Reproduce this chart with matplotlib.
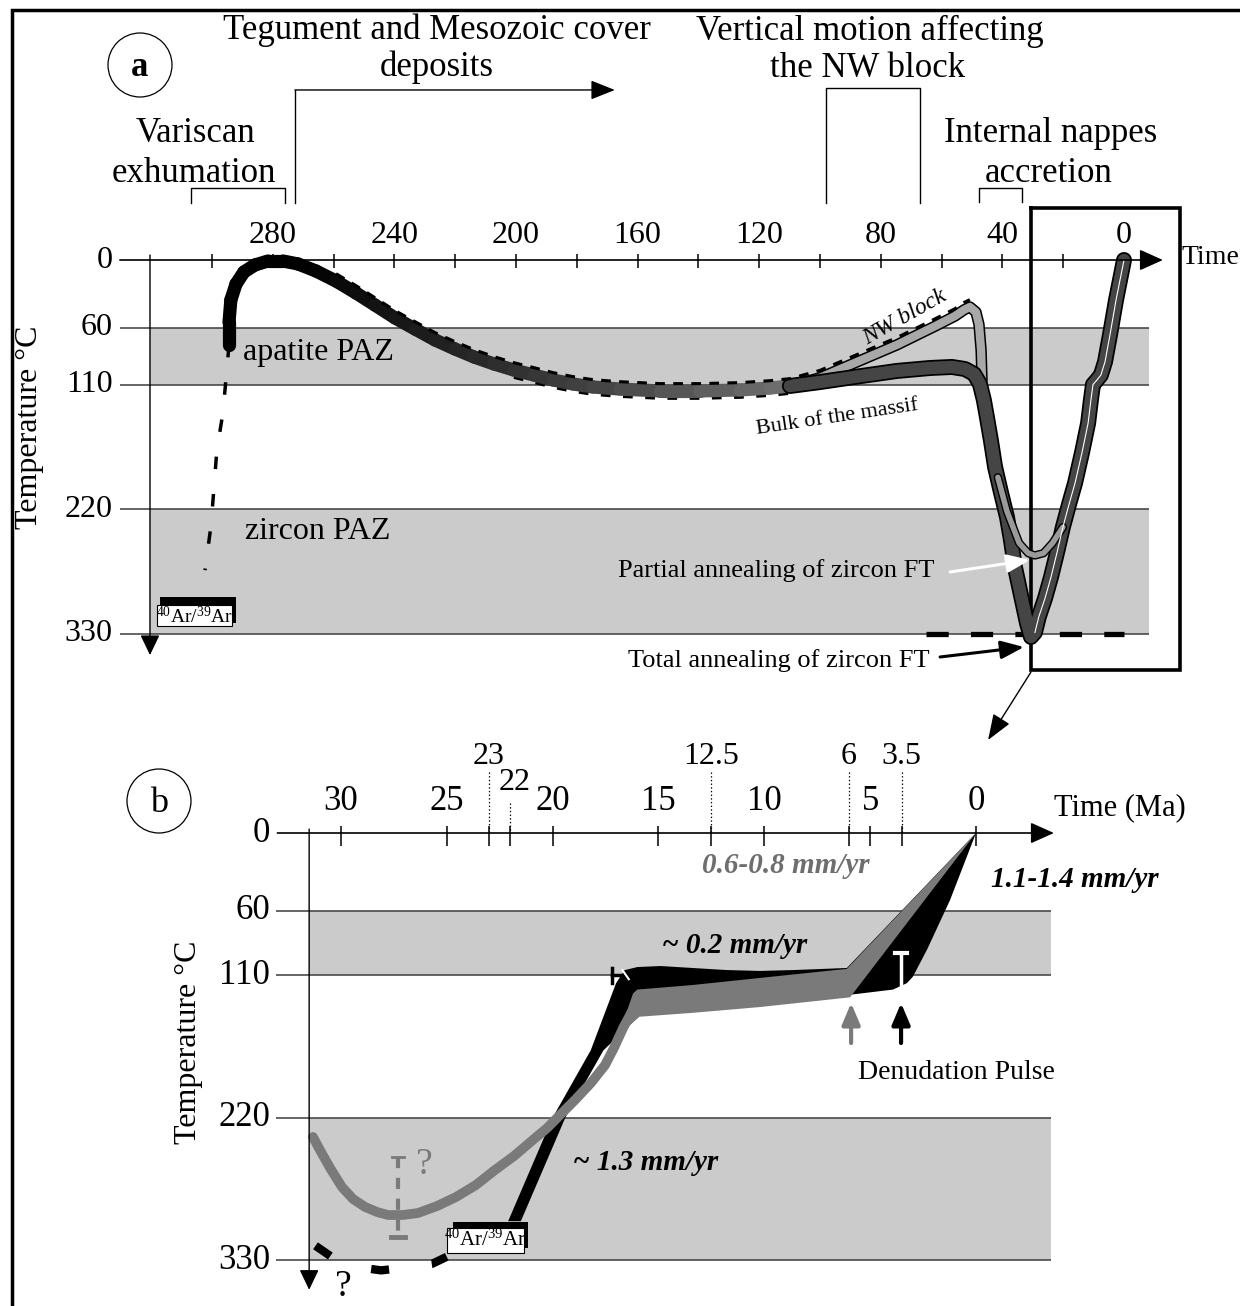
import matplotlib
matplotlib.use('Agg')
import matplotlib.pyplot as plt
import matplotlib.patheffects as pe
from matplotlib.patches import Rectangle, Ellipse, Polygon

plt.rcParams['font.family'] = ['Liberation Serif', 'DejaVu Serif']
plt.rcParams['mathtext.fontset'] = 'custom'
plt.rcParams['mathtext.rm'] = 'Liberation Serif'
plt.rcParams['lines.scale_dashes'] = False

W, H = 1240, 1306

# ---------------- data, panel a (time in Ma, temperature in degC) ----------------
a_labels = [280, 240, 200, 160, 120, 80, 40, 0]
a_minor = [300, 260, 220, 180, 140, 100, 60, 20]
temp_ticks = [0, 60, 110, 220, 330]
paz = [(60, 110), (220, 330)]

main_ma = [294.4, 294.4, 293.8, 292.1, 289.5, 285.9, 281.6, 276.6, 271.7, 265.8,
           259.2, 252.6, 246.4, 239.8, 233.2, 226.6, 220.1, 213.8, 207.2, 200.7,
           194.1, 187.8, 181.3, 174.7, 165.8, 152.6, 139.5, 126.3, 116.4, 109.9]
main_t = [75.1, 54.8, 35.3, 21.2, 10.6, 4.4, 0.9, 0.9, 3.5, 9.7,
          18.6, 29.2, 39.8, 51.2, 61.0, 70.7, 78.6, 85.7, 91.9, 97.2,
          101.6, 106.0, 109.5, 112.2, 114.0, 115.7, 115.7, 114.8, 113.1, 111.3]

bulk_ma = [109.9, 100.0, 87.8, 74.7, 63.8, 56.6, 52.3, 49.3, 47.4, 46.1, 45.1, 43.8,
           42.4, 40.5, 38.5, 37.2, 35.9, 33.9, 31.9, 30.6, 29.3, 28.0, 26.0, 24.0,
           22.0, 20.1, 18.1, 16.1, 13.8, 11.8, 10.9, 10.2, 8.9, 7.6, 6.25, 4.6, 2.6, 0.0]
bulk_t = [111.3, 107.8, 103.0, 98.0, 95.4, 94.5, 96.3, 100.7, 109.5, 123.7, 138.7, 159,
          183, 205, 227, 247, 271, 296, 321, 333, 329, 315, 299, 280,
          258, 236, 216, 197, 170, 144, 124, 110, 106, 101.6, 90, 66, 35, 0]

nw_ma = [109.9, 100.0, 87.8, 74.7, 61.8, 55.6, 52.6, 50.7, 48.7, 47.7, 47.0, 46.7]
nw_t = [111.3, 104, 90, 75, 58, 49.5, 44, 41.5, 46, 57, 80, 106]

partial_ma = [41.5, 38.5, 34.5, 31.5, 29.3, 26.5, 23.5, 20.1]
partial_t = [192, 222, 250, 259, 261, 259, 250, 236]

ar_dash_ma = [294.4, 296.4, 298.4, 300.3, 302.3]
ar_dash_t = [75, 135, 168, 234, 274]

variscan = (307, 276)
tegument = (272.7, 167.5)
nw_motion = (98, 67)
nappes = (47.7, 33.5)
total_ann = (65, 0)

# ---------------- data, panel b ----------------
b_labels = [30, 25, 20, 15, 10, 5, 0]
b_extra = [23, 22, 12.5, 6, 3.5]

gl_ma = [31.32, 30.99, 30.51, 29.95, 29.43, 28.86, 28.29, 27.78, 27.07, 26.36, 25.46,
         24.56, 23.62, 22.72, 21.82, 20.93, 20.26, 19.65, 18.94, 18.19, 17.52, 17.1,
         16.65, 16.25]
gl_t = [234.9, 245.0, 258.9, 273.6, 282.8, 289.0, 292.9, 295.2, 295.2, 293.7, 288.3,
        281.3, 272.0, 260.4, 249.6, 237.2, 228.0, 217.9, 206.3, 193.2, 179.3, 166.0,
        150.0, 138.0]

gb_ma = [16.75, 16.2, 16.0, 13.4, 10.2, 6.1, 0.0, 5.95, 10.2, 13.4, 15.9, 16.45]
gb_t = [150, 124, 121, 117.5, 112, 105, 0, 127, 134.5, 139, 142, 150]

bk_ma = [22.1, 20.0, 18.2, 17.0, 16.6, 16.0, 14.9, 13.4, 11.8, 10.2, 8.6, 6.1, 0.0,
         1.23, 2.31, 2.98, 3.26, 3.92, 5.95, 10.0, 15.5, 17.6, 19.4, 21.5]
bk_t = [300, 220, 168, 116, 106, 103.6, 102.8, 104.3, 105.9, 106.6, 105.9, 104.3, 0,
        52, 90, 111, 116, 121, 125, 127, 135, 168, 220, 300]

bdash_ma = [31.2, 30.4, 29.0, 28.1, 27.0, 25.7, 25.0]
bdash_t = [319, 328, 336, 338, 336, 333, 327.5]

pulse_gray = 5.9
pulse_black = 3.54


def arrow(ax, start, tip, color='k', lw=1.3, hl=1.45, hw=0.65, ms=10, z=5):
    ax.annotate('', xy=tip, xytext=start,
                arrowprops=dict(arrowstyle='-|>,head_length=%s,head_width=%s' % (hl, hw),
                                color=color, lw=lw, shrinkA=0, shrinkB=0,
                                mutation_scale=ms), zorder=z)


def stroke(w):
    return [pe.Stroke(linewidth=w, foreground='k'), pe.Normal()]


fig = plt.figure(figsize=(W / 100, H / 100), dpi=100)
fig.patch.set_facecolor('white')

axP = fig.add_axes([0, 0, 1, 1], label='px')
axP.set_xlim(0, W)
axP.set_ylim(H, 0)
axP.axis('off')

axA = fig.add_axes([0, 0, 1, 1], label='a')
axA.set_xlim(1124 / 3.04, (1124 - W) / 3.04)
axA.set_ylim((H - 260) / 1.132, -260 / 1.132)
axA.axis('off')

axB = fig.add_axes([0, 0, 1, 1], label='b')
axB.set_xlim(976 / 21.17, (976 - W) / 21.17)
axB.set_ylim((H - 833) / 1.294, -833 / 1.294)
axB.axis('off')

# frame and panel letters
axP.plot([12, 12, W], [H, 10, 10], color='k', lw=2.5, solid_joinstyle='miter')
axP.add_patch(Ellipse((140, 65), 64, 64, fill=False, lw=0.9, ec='k'))
axP.text(140, 67, 'a', ha='center', va='center', fontsize=25, fontweight='bold')
axP.add_patch(Ellipse((159, 801), 64, 64, fill=False, lw=0.9, ec='k'))
axP.text(159, 803, 'b', ha='center', va='center', fontsize=26)

# ---------------- panel a ----------------
ax = axA
band_col = '#cbcbcb'
line_col = '#3c3c3c'
for lo, hi in paz:
    ax.fill_between([320.4, -8.2], lo, hi, color=band_col, lw=0, zorder=1)
ax.hlines([60, 110, 220, 330], 330.3, -8.2, color=line_col, lw=1.1, zorder=2)
arrow(ax, (330.3, 0), (-12.8, 0), lw=1.2)
arrow(ax, (320.4, -4.4), (320.4, 349), lw=1.0, hl=1.25, hw=0.6)
ax.vlines(a_minor + a_labels, -5, 7, color='k', lw=1.1, zorder=2)
for v in a_labels:
    ax.text(v, -22, str(v), ha='center', va='center', fontsize=23)
for v in temp_ticks:
    ax.text(332.6, v, str(v), ha='right', va='center', fontsize=23)
ax.text(359.9, 148, 'Temperature °C', rotation=90, ha='center', va='center', fontsize=23)
ax.text(-18.8, -1.8, 'Time', ha='left', va='center', fontsize=20)

# headers and brackets
ax.text(226, -203, 'Tegument and Mesozoic cover', ha='center', va='center', fontsize=25)
ax.text(226, -170, 'deposits', ha='center', va='center', fontsize=25)
ax.plot([tegument[0], tegument[0]], [-50.4, -150.2], color='k', lw=1.0)
arrow(ax, (tegument[0], -150.2), (tegument[1], -150.2), lw=1.0, hl=1.5, hw=0.6)

ax.text(305.3, -112, 'Variscan', ha='center', va='center', fontsize=25)
ax.text(305.9, -76, 'exhumation', ha='center', va='center', fontsize=25)
ax.plot([variscan[0], variscan[0], variscan[1], variscan[1]], [-50.4, -63.6, -63.6, -50.4],
        color='k', lw=1.0)

ax.text(83.6, -202, 'Vertical motion affecting', ha='center', va='center', fontsize=25)
ax.text(84.2, -169, 'the NW block', ha='center', va='center', fontsize=25)
ax.plot([nw_motion[0], nw_motion[0], nw_motion[1], nw_motion[1]], [-50.4, -152, -152, -50.4],
        color='k', lw=1.0)

ax.text(24.3, -112, 'Internal nappes', ha='center', va='center', fontsize=25)
ax.text(24.7, -76, 'accretion', ha='center', va='center', fontsize=25)
ax.plot([nappes[0], nappes[0], nappes[1], nappes[1]], [-51.3, -63.6, -63.6, -51.3],
        color='k', lw=1.0)

# zoom box and arrow to panel b
ax.plot([30.6, 30.6, -18.4, -18.4, 30.6], [-45.9, 362, 362, -45.9, -45.9],
        color='k', lw=2.6, zorder=3, solid_joinstyle='miter')
arrow(ax, (30.6, 364), (44.7, 424), lw=1.0, hl=1.6, hw=0.6, z=3)

ax.text(289.8, 82, 'apatite PAZ', ha='left', va='center', fontsize=23, zorder=6)
ax.text(289.1, 240, 'zircon PAZ', ha='left', va='center', fontsize=23, zorder=6)

# Ar/Ar box
ax.add_patch(Rectangle((292.1, 298), 24.9, 22.5, fc='k', ec='none', zorder=5))
ax.add_patch(Rectangle((293.4, 305), 24.6, 18.5, fc='white', ec='k', lw=0.8, zorder=6))
ax.text(305.7, 314.5, r'$\mathregular{^{40}Ar/^{39}Ar}$', ha='center', va='center',
        fontsize=14, zorder=7)
ax.plot(ar_dash_ma, ar_dash_t, color='k', lw=2.5, dashes=(9, 18), zorder=4)

# curves: main path shades from black to grey
for i in range(len(main_ma) - 1):
    mid = 0.5 * (main_ma[i] + main_ma[i + 1])
    g = min(0.55, max(0.0, (270 - mid) / 220 * 0.6))
    ax.plot(main_ma[i:i + 2], main_t[i:i + 2], color=str(g), lw=9.5,
            solid_capstyle='round', zorder=4)
ax.plot(main_ma[10:] + nw_ma[1:8], [t - 6.5 for t in main_t[10:] + nw_t[1:8]],
        color='k', lw=2.2, dashes=(7, 6), zorder=5)
ax.plot(main_ma[19:], [t + 6.5 for t in main_t[19:]], color='k', lw=2.2,
        dashes=(7, 9), zorder=3.9)

ax.plot(nw_ma, nw_t, color='#a8a8a8', lw=6, zorder=4.2,
        solid_capstyle='round', path_effects=stroke(8.2))
ax.plot(bulk_ma, bulk_t, color='#454545', lw=9, zorder=4.4,
        solid_capstyle='round', solid_joinstyle='round', path_effects=stroke(11.5))
ax.plot(partial_ma, partial_t, color='#9a9a9a', lw=4, zorder=4.6,
        solid_capstyle='round', path_effects=stroke(6))
ax.plot(bulk_ma[20:], bulk_t[20:], color='white', lw=0.8, zorder=4.7)
ax.plot(total_ann, [330, 330], color='k', lw=3.8, dashes=(16, 16), zorder=4.3)

ax.text(72, 51, 'NW block', rotation=29.5, ha='center', va='center', fontsize=17,
        style='italic', zorder=6)
ax.text(94.4, 138.7, 'Bulk of the massif', rotation=8.5, ha='center', va='center',
        fontsize=16, zorder=6)
ax.text(114.5, 274.7, 'Partial annealing of zircon FT', ha='center', va='center',
        fontsize=19, zorder=6)
arrow(ax, (57.2, 275.6), (30.9, 265), color='white', lw=2.2, hl=1.4, hw=0.55, z=6)
ax.text(113.5, 353.4, 'Total annealing of zircon FT', ha='center', va='center',
        fontsize=19, zorder=6)
arrow(ax, (60.5, 350.7), (32.9, 341.9), color='k', lw=2.2, hl=1.4, hw=0.55, z=6)

# ---------------- panel b ----------------
ax = axB
for lo, hi in paz:
    ax.fill_between([31.5, -3.54], lo, hi, color=band_col, lw=0, zorder=1)
ax.hlines([60, 110, 220, 330], 33.07, -3.54, color=line_col, lw=1.1, zorder=2)
arrow(ax, (33.0, 0), (-3.68, 0), lw=1.2)
arrow(ax, (31.5, -3), (31.5, 353), lw=1.0, hl=1.25, hw=0.6)
ax.vlines(b_labels + b_extra, -5.4, 10, color='k', lw=1.1, zorder=2)
for v in b_labels:
    ax.text(v, -24, str(v), ha='center', va='center', fontsize=25)
for v in b_extra:
    if v == 22:
        ax.text(21.8, -39.4, '22', ha='center', va='center', fontsize=23)
        ax.vlines(v, -23, 0, color='k', lw=0.9, linestyles=':')
    else:
        ax.text(v, -59.5, str(v), ha='center', va='center', fontsize=23)
        ax.vlines(v, -47, 0, color='k', lw=0.9, linestyles=':')
for v in temp_ticks:
    ax.text(33.35, v, str(v), ha='right', va='center', fontsize=25)
ax.text(37.2, 161.5, 'Temperature °C', rotation=90, ha='center', va='center', fontsize=23)
ax.text(-6.8, -19.3, 'Time (Ma)', ha='center', va='center', fontsize=22)

ax.add_patch(Polygon(list(zip(bk_ma, bk_t)), closed=True, fc='k', ec='none', zorder=3))
ax.add_patch(Polygon(list(zip(gb_ma, gb_t)), closed=True, fc='#7a7a7a', ec='none', zorder=3.2))
ax.plot(gl_ma, gl_t, color='#7a7a7a', lw=7, solid_capstyle='round',
        solid_joinstyle='round', zorder=3.3)

# markers
ax.plot([17.2, 17.2], [104, 116], color='k', lw=2.5, zorder=4)
ax.plot([17.2, 16.5], [110, 110], color='k', lw=2.5, zorder=4)
ax.plot([16.7, 16.4], [106, 113], color='white', lw=1.5, zorder=4)
ax.plot([pulse_black, pulse_black], [93, 120], color='white', lw=2.5, zorder=4)
ax.plot([pulse_black + 0.28, pulse_black - 0.28], [93, 93], color='white', lw=3, zorder=4)
arrow(ax, (pulse_gray, 162.3), (pulse_gray, 131.4), color='#7a7a7a', lw=3, hl=1.3, hw=0.55)
arrow(ax, (pulse_black, 162.3), (pulse_black, 131.4), color='k', lw=3, hl=1.3, hw=0.55)
ax.text(0.94, 184.7, 'Denudation Pulse', ha='center', va='center', fontsize=20)

ax.plot([27.3, 27.3], [250, 312], color='#7a7a7a', lw=3, dashes=(8, 7), zorder=4)
ax.plot([27.6, 27.0], [250, 250], color='#7a7a7a', lw=2, zorder=4)
ax.plot([27.65, 26.95], [312, 312], color='#7a7a7a', lw=3.5, zorder=4)
ax.text(26.07, 256.6, '?', ha='center', va='center', fontsize=27, color='#7a7a7a')
ax.text(29.9, 351, '?', ha='center', va='center', fontsize=27, color='k')
ax.plot(bdash_ma, bdash_t, color='k', lw=6, dashes=(13, 31), zorder=4)

# Ar/Ar box b
ax.add_patch(Rectangle((21.15, 300.6), 3.55, 20, fc='k', ec='none', zorder=5))
ax.add_patch(Rectangle((21.35, 305), 3.65, 19.6, fc='white', ec='k', lw=0.8, zorder=6))
ax.text(23.2, 315, r'$\mathregular{^{40}Ar/^{39}Ar}$', ha='center', va='center',
        fontsize=15, zorder=7)

ax.text(9.0, 25.5, '0.6-0.8 mm/yr', ha='center', va='center', fontsize=21,
        style='italic', fontweight='bold', color='#6e6e6e', zorder=6)
ax.text(-4.68, 36.3, '1.1-1.4 mm/yr', ha='center', va='center', fontsize=21,
        style='italic', fontweight='bold', zorder=6)
ax.text(11.4, 87.3, '~ 0.2 mm/yr', ha='center', va='center', fontsize=21,
        style='italic', fontweight='bold', zorder=6)
ax.text(15.6, 255, '~ 1.3 mm/yr', ha='center', va='center', fontsize=21,
        style='italic', fontweight='bold', zorder=6)

fig.savefig('out.png', dpi=100, facecolor='white')
